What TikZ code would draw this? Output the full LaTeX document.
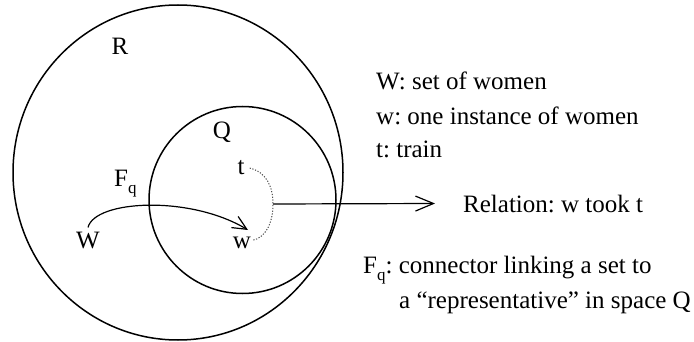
\documentclass[tikz,border=0pt]{standalone}
\usepackage{fontspec}
\setmainfont{Liberation Serif}
\usetikzlibrary{arrows.meta}
\frenchspacing
\newcommand\lowsub[1]{\raisebox{-7pt}{\fontsize{17}{17}\selectfont #1}}
\begin{document}
\begin{tikzpicture}[x=1pt,y=-1pt,
  every node/.style={inner sep=0pt, font=\fontsize{25}{30}\selectfont\frenchspacing},
  lbl/.style={anchor=base},
  txt/.style={anchor=base west},
  ring/.style={draw, line width=1.5pt},
  link/.style={line width=1.2pt, -{Straight Barb[length=14pt,width=13pt]}},
  relarrow/.style={line width=1.2pt, -{Straight Barb[length=18pt,width=15pt]}},
  pair/.style={draw=gray!60!black, dash pattern=on 1.2pt off 1.6pt, line width=1pt}]
\useasboundingbox (0,0) rectangle (694,342);
% sets
\draw[ring] (178,172.5) ellipse [x radius=165, y radius=167.5];
\draw[ring] (242.5,200) circle [radius=93.5];
% labels in the diagram
\node[lbl] (Rl) at (120,55) {R};
\node[lbl] (Ql) at (222,139) {Q};
\node[lbl] (tl) at (241,175) {t};
\node[lbl] (wl) at (242,248) {w};
\node[lbl] (Wl) at (88,248) {W};
\node[txt] (Fl) at (114,186) {F\lowsub{q}};
% connector F_q
\coordinate (Wtop) at ([yshift=4pt]Wl.north);
\coordinate (wtip) at (248,230);
\draw[link] (Wtop) .. controls (95,200) and (190,195) .. (wtip);
% relation between w and t
\coordinate (tstart) at ([xshift=5pt]tl.east);
\coordinate (wend) at ([xshift=1pt,yshift=2pt]wl.east);
\coordinate (mid) at (273,204);
\draw[pair] (tstart) .. controls (266,172) and (273,186) .. (mid)
            .. controls (273,224) and (265,238) .. (wend);
% legend
\node[txt] (dW) at (376,90) {W: set of women};
\node[txt] (dw) at (376,125) {w: one instance of women};
\node[txt] (dt) at (376,158) {t: train};
\node[txt] (relation) at (463,212) {Relation: w took t};
\node[txt] (dF1) at (363,273) {F\lowsub{q}: connector linking a set to};
\node[txt] (dF2) at (399,308) {a “representative” in space Q};
\draw[relarrow] (mid) -- ([xshift=-28pt]relation.west);
\end{tikzpicture}
\end{document}
